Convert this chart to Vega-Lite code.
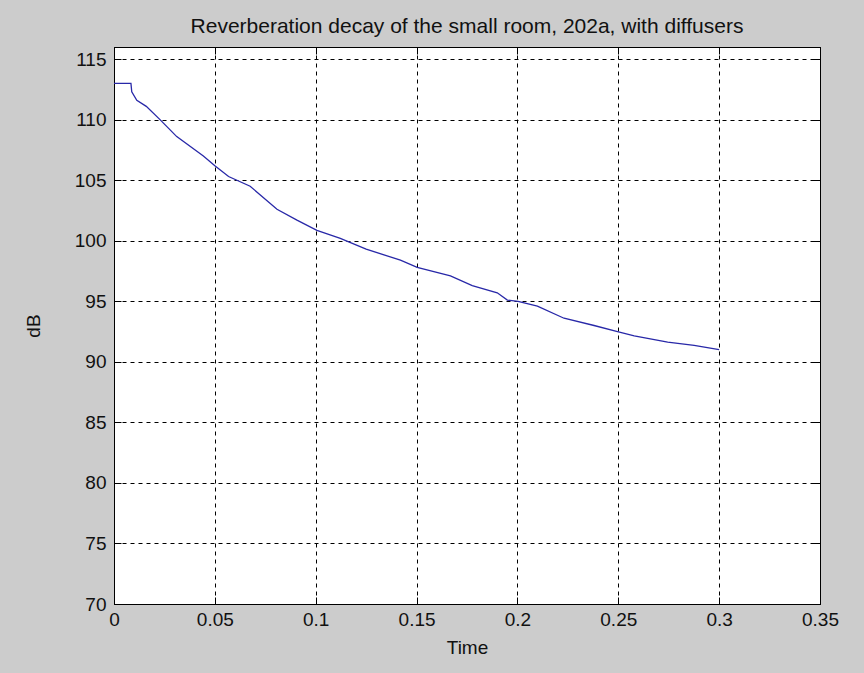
{
  "$schema": "https://vega.github.io/schema/vega-lite/v6.json",
  "width": 706,
  "height": 557,
  "autosize": {"type": "none"},
  "padding": {"left": 114, "top": 47, "right": 44, "bottom": 69},
  "background": "#cccccc",
  "config": {
    "font": "Liberation Sans",
    "view": {"fill": "white", "stroke": "black", "strokeWidth": 1},
    "axis": {
      "labelFont": "Liberation Sans",
      "titleFont": "Liberation Sans",
      "labelFontSize": 19,
      "titleFontSize": 19,
      "labelColor": "#111111",
      "titleColor": "#111111",
      "titleFontWeight": "normal",
      "domainColor": "black",
      "tickColor": "black",
      "gridColor": "black",
      "gridDash": [4, 4],
      "gridOpacity": 1,
      "gridWidth": 1
    }
  },
  "title": {
    "text": "Reverberation decay of the small room, 202a, with diffusers",
    "fontSize": 21,
    "fontWeight": "normal",
    "color": "#111111",
    "font": "Liberation Sans",
    "offset": 10,
    "anchor": "middle"
  },
  "data": {
    "values": [
      {"t": 0.0, "db": 113.0},
      {"t": 0.0084, "db": 113.0},
      {"t": 0.0088, "db": 112.3},
      {"t": 0.0113, "db": 111.6},
      {"t": 0.016, "db": 111.1},
      {"t": 0.0228, "db": 110.0},
      {"t": 0.0311, "db": 108.6},
      {"t": 0.0443, "db": 107.0},
      {"t": 0.05, "db": 106.2},
      {"t": 0.0568, "db": 105.3},
      {"t": 0.0675, "db": 104.5},
      {"t": 0.0808, "db": 102.6},
      {"t": 0.0907, "db": 101.7},
      {"t": 0.1006, "db": 100.85},
      {"t": 0.1122, "db": 100.2},
      {"t": 0.125, "db": 99.3},
      {"t": 0.142, "db": 98.4},
      {"t": 0.1503, "db": 97.8},
      {"t": 0.1668, "db": 97.1},
      {"t": 0.1776, "db": 96.3},
      {"t": 0.19, "db": 95.7},
      {"t": 0.195, "db": 95.1},
      {"t": 0.2003, "db": 95.0},
      {"t": 0.2099, "db": 94.6},
      {"t": 0.2231, "db": 93.6},
      {"t": 0.238, "db": 93.0},
      {"t": 0.2496, "db": 92.5},
      {"t": 0.2579, "db": 92.15},
      {"t": 0.2745, "db": 91.63},
      {"t": 0.2876, "db": 91.35},
      {"t": 0.3, "db": 91.0}
    ]
  },
  "layer": [
    {
      "mark": {"type": "line", "color": "#2828a8", "strokeWidth": 1.3, "clip": true},
      "encoding": {
        "x": {
          "field": "t", "type": "quantitative",
          "scale": {"domain": [0, 0.35], "nice": false, "zero": false},
          "axis": {
            "title": "Time", "values": [0, 0.05, 0.1, 0.15, 0.2, 0.25, 0.3, 0.35],
            "labelExpr": "datum.value == 0 ? '0' : format(datum.value, '.2~f')",
            "tickSize": -7, "labelPadding": 13, "titlePadding": 9, "labelFlush": false, "labelOverlap": false
          }
        },
        "y": {
          "field": "db", "type": "quantitative",
          "scale": {"domain": [70, 116], "nice": false, "zero": false},
          "axis": {
            "title": "dB", "values": [70, 75, 80, 85, 90, 95, 100, 105, 110, 115],
            "tickSize": -7, "labelPadding": 15, "titlePadding": 31, "labelFlush": false, "labelOverlap": false
          }
        }
      }
    },
    {
      "mark": {"type": "point", "opacity": 0},
      "encoding": {
        "x": {
          "field": "t", "type": "quantitative",
          "scale": {"domain": [0, 0.35], "nice": false, "zero": false},
          "axis": {"orient": "top", "title": null, "labels": false, "grid": false, "tickSize": -7, "values": [0, 0.05, 0.1, 0.15, 0.2, 0.25, 0.3, 0.35]}
        },
        "y": {
          "field": "db", "type": "quantitative",
          "scale": {"domain": [70, 116], "nice": false, "zero": false},
          "axis": {"orient": "right", "title": null, "labels": false, "grid": false, "tickSize": -7, "values": [70, 75, 80, 85, 90, 95, 100, 105, 110, 115]}
        }
      }
    }
  ],
  "resolve": {"axis": {"x": "independent", "y": "independent"}}
}
